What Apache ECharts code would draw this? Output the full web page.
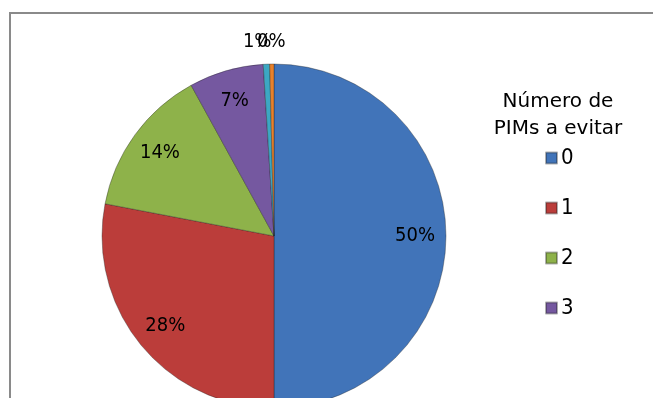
<!DOCTYPE html>
<html>
<head>
<meta charset="utf-8">
<script src="https://cdn.jsdelivr.net/npm/echarts@6/dist/echarts.min.js"></script>
<style>
  html, body { margin: 0; padding: 0; background: #fff; }
  #chart { width: 653px; height: 398px; }
</style>
</head>
<body>
<div id="chart"></div>
<script>
// Number of PIMs to avoid: share of answers per category
const categories = ['0', '1', '2', '3', '4', '5'];
const shares = [50, 28, 14, 7, 0.6, 0.4];
const legendItems = ['0', '1', '2', '3'];
const sliceColors = ['#4174B9', '#BB3D3A', '#8EB24A', '#7558A0', '#3CA7C3', '#E8812B'];

const FONT = 'DejaVu Sans';
const LABEL_FONT = 'DejaVu Sans Condensed';
const CENTER = [274, 236];
const RADIUS = 172;

function pct(p) { return Math.round(p.percent) + '%'; }

// visible slices; only the two thin slices carry an outside label
const mainData = categories.map((name, i) => {
  const item = {
    name: name,
    value: shares[i],
    itemStyle: { color: sliceColors[i] }
  };
  if (i >= 4) {
    item.label = {
      show: true,
      position: 'outside',
      distanceToLabelLine: i === 4 ? -6 : -14
    };
    item.labelLine = { show: false, length: 22, length2: 0 };
  }
  return item;
});

// a wider transparent ring carries the inner labels further out
const labelData = categories.map((name, i) => ({
  name: name,
  value: shares[i],
  label: { show: i < 4 }
}));

const chart = echarts.init(document.getElementById('chart'), null, { renderer: 'canvas' });
chart.setOption({
  animation: false,
  backgroundColor: '#ffffff',
  textStyle: { fontFamily: FONT },
  title: {
    text: 'Número de\nPIMs a evitar',
    left: 553,
    top: 83,
    textAlign: 'center',
    textStyle: { fontFamily: FONT, fontSize: 20, fontWeight: 'normal', color: '#000', lineHeight: 27 }
  },
  legend: {
    data: legendItems,
    orient: 'vertical',
    left: 545,
    top: 145,
    padding: 0,
    itemWidth: 11,
    itemHeight: 11,
    itemGap: 24,
    icon: 'rect',
    selectedMode: false,
    textStyle: { fontFamily: LABEL_FONT, fontSize: 22, lineHeight: 26, color: '#000', padding: [0, 0, 0, -1] }
  },
  graphic: [{
    type: 'rect',
    shape: { x: 10, y: 13, width: 700, height: 450 },
    style: { fill: 'none', stroke: '#8a8a8a', lineWidth: 2 },
    silent: true,
    z: 0
  }],
  series: [
    {
      type: 'pie',
      center: CENTER,
      radius: [0, RADIUS],
      startAngle: 90,
      clockwise: true,
      avoidLabelOverlap: false,
      minShowLabelAngle: 0,
      labelLayout: { hideOverlap: false },
      label: {
        show: false,
        formatter: pct,
        fontFamily: LABEL_FONT,
        fontSize: 20,
        color: '#000'
      },
      labelLine: { show: false },
      itemStyle: { borderColor: 'rgba(30,30,30,0.35)', borderWidth: 1 },
      emphasis: { disabled: true },
      data: mainData,
      z: 2
    },
    {
      type: 'pie',
      center: CENTER,
      radius: [0, 276],
      startAngle: 90,
      clockwise: true,
      silent: true,
      avoidLabelOverlap: false,
      itemStyle: { color: 'rgba(0,0,0,0)', borderWidth: 0 },
      label: {
        show: true,
        position: 'inside',
        formatter: pct,
        fontFamily: LABEL_FONT,
        fontSize: 20,
        color: '#000'
      },
      labelLine: { show: false },
      emphasis: { disabled: true },
      data: labelData,
      z: 3
    }
  ]
});
</script>
</body>
</html>
